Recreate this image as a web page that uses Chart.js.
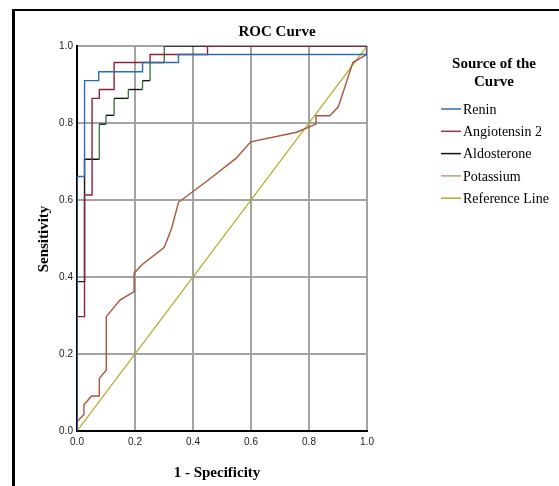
<!DOCTYPE html>
<html>
<head>
<meta charset="utf-8">
<script src="https://cdn.jsdelivr.net/npm/chart.js@4.4.1/dist/chart.umd.min.js"></script>
<style>
  body { margin: 0; background: #fff; }
  #wrap { position: relative; width: 559px; height: 486px; overflow: hidden; }
  #marco { position: absolute; left: 12px; top: 9px; width: 600px; height: 500px;
           border-left: 3px solid #000; border-top: 2px solid #000; }
  #grafica { position: absolute; left: 0; top: 0; }
</style>
</head>
<body>
<div id="wrap">
  <div id="marco"></div>
  <canvas id="grafica" width="559" height="486"></canvas>
</div>
<script>
// datos
var titulo = "ROC Curve";
var tituloX = "1 - Specificity";
var tituloY = "Sensitivity";
var tituloLeyenda = ["Source of the", "Curve"];
var marcas = [0, 0.2, 0.4, 0.6, 0.8, 1.0];

var nombres = ["Renin", "Angiotensin 2", "Aldosterone", "Potassium", "Reference Line"];

var reninX = [0, 0, 0.026, 0.026, 0.075, 0.075, 0.226, 0.226, 0.35, 0.35, 1, 1];
var reninY = [0, 0.661, 0.661, 0.91, 0.91, 0.933, 0.933, 0.957, 0.957, 0.978, 0.978, 1];

var angioX = [0, 0, 0.026, 0.026, 0.052, 0.052, 0.077, 0.077, 0.128, 0.128, 0.252, 0.252, 0.45, 0.45, 1];
var angioY = [0, 0.297, 0.297, 0.613, 0.613, 0.864, 0.864, 0.887, 0.887, 0.957, 0.957, 0.978, 0.978, 1, 1];

var aldoX = [0, 0, 0.026, 0.026, 0.077, 0.077, 0.1, 0.1, 0.128, 0.128, 0.177, 0.177, 0.226, 0.226, 0.252, 0.252, 0.301, 0.301, 1];
var aldoY = [0, 0.388, 0.388, 0.706, 0.706, 0.797, 0.797, 0.82, 0.82, 0.864, 0.864, 0.887, 0.887, 0.91, 0.91, 0.957, 0.957, 1, 1];

var potasioX = [0, 0, 0.024, 0.024, 0.05, 0.077, 0.077, 0.101, 0.101, 0.148, 0.197, 0.197, 0.223, 0.301, 0.326, 0.35, 0.453, 0.548, 0.599, 0.757, 0.824, 0.824, 0.872, 0.901, 0.928, 0.951, 0.997, 1];
var potasioY = [0, 0.024, 0.043, 0.068, 0.091, 0.091, 0.137, 0.158, 0.297, 0.34, 0.362, 0.41, 0.431, 0.477, 0.526, 0.594, 0.652, 0.708, 0.751, 0.776, 0.797, 0.819, 0.819, 0.842, 0.903, 0.957, 0.977, 1];

var refX = [0, 1];
var refY = [0, 1];

var colores = ["#2e6db4", "#8c2236", "#151515", "#a9553a", "#b3a92a"];
var coloresLeyenda = ["#2e6db4", "#8c3a4a", "#151515", "#c99582", "#b3a92a"];

function puntos(xs, ys) {
    return xs.map((x, i) => ({ x: x, y: ys[i] }));
}

var series = [
    puntos(reninX, reninY),
    puntos(angioX, angioY),
    puntos(aldoX, aldoY),
    puntos(potasioX, potasioY),
    puntos(refX, refY)
];

var datasets = series.map((d, i) => ({
    label: nombres[i],
    data: d,
    showLine: true,
    borderColor: colores[i],
    borderWidth: 1.4,
    pointRadius: 0,
    tension: 0,
    fill: false
}));
// los tramos verticales de Aldosterone se ven verdes en el original
datasets[2].segment = {
    borderColor: c => (c.p0.parsed.x === c.p1.parsed.x && c.p0.parsed.y >= 0.7) || (c.p0.parsed.y === 1 && c.p1.parsed.x <= 0.46) ? "#3d7a3d" : "#151515"
};
datasets[4].borderWidth = 1.2;

var textos = {
    id: "textos",
    afterDraw(chart) {
        var ctx = chart.ctx;
        ctx.save();
        ctx.fillStyle = "#000";
        ctx.textAlign = "center";
        ctx.textBaseline = "middle";
        ctx.font = "bold 15px 'Liberation Serif'";
        ctx.fillText(titulo, 277, 32);
        ctx.fillText(tituloX, 217, 473);
        ctx.fillText(tituloLeyenda[0], 494, 64);
        ctx.fillText(tituloLeyenda[1], 494, 82);
        ctx.save();
        ctx.translate(44, 239);
        ctx.rotate(-Math.PI / 2);
        ctx.fillText(tituloY, 0, 0);
        ctx.restore();
        ctx.textAlign = "left";
        ctx.font = "14px 'Liberation Serif'";
        nombres.forEach((n, i) => {
            var y = 109 + i * 22.3;
            ctx.strokeStyle = coloresLeyenda[i];
            ctx.lineWidth = 1.5;
            ctx.beginPath();
            ctx.moveTo(441, y);
            ctx.lineTo(461, y);
            ctx.stroke();
            ctx.fillText(n, 463, y + 1);
        });
        ctx.restore();
    }
};

var fuenteTicks = { family: "'Liberation Sans Narrow', 'Liberation Sans', sans-serif", size: 10 };

new Chart(document.getElementById("grafica").getContext("2d"), {
    type: "scatter",
    data: { datasets: datasets },
    options: {
        responsive: false,
        animation: false,
        layout: { padding: { left: 47, right: 192, top: 46, bottom: 35 } },
        plugins: { legend: { display: false }, title: { display: false }, tooltip: { enabled: false } },
        scales: {
            x: {
                type: "linear", min: 0, max: 1,
                afterBuildTicks: s => { s.ticks = marcas.map(v => ({ value: v })); },
                afterFit: s => { s.height = 20; },
                ticks: { font: fuenteTicks, color: "#222", padding: 5, callback: v => v.toFixed(1) },
                grid: { color: "#a3a3a3", lineWidth: 2, drawTicks: false },
                border: { color: "#000", width: 2 }
            },
            y: {
                type: "linear", min: 0, max: 1,
                afterBuildTicks: s => { s.ticks = marcas.map(v => ({ value: v })); },
                afterFit: s => { s.width = 30; },
                ticks: { font: fuenteTicks, color: "#222", padding: 4, callback: v => v.toFixed(1) },
                grid: { color: "#a3a3a3", lineWidth: 2, drawTicks: false },
                border: { color: "#000", width: 2 }
            }
        }
    },
    plugins: [textos]
});
</script>
</body>
</html>
